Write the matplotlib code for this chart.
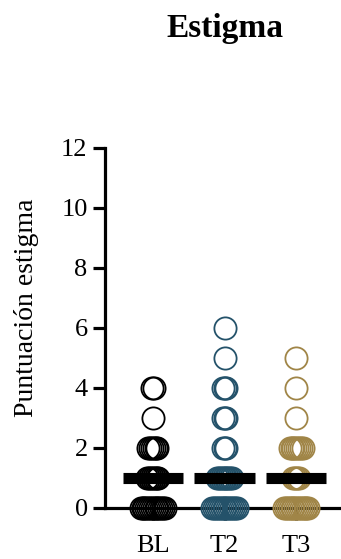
import numpy as np
import matplotlib
matplotlib.use("Agg")
import matplotlib.pyplot as plt

title = "Estigma"
ylabel = "Puntuación estigma"
groups = ["BL", "T2", "T3"]
colors = ["#000000", "#24526a", "#a08547"]
score_levels = [0, 1, 2, 3, 4, 5, 6]
bl_counts = [14, 7, 6, 1, 2, 0, 0]
t2_counts = [14, 9, 3, 3, 3, 1, 1]
t3_counts = [14, 4, 8, 1, 1, 1, 0]
yticks = [0, 2, 4, 6, 8, 10, 12]

all_counts = [bl_counts, t2_counts, t3_counts]

plt.rcParams['font.family'] = ['Liberation Serif', 'DejaVu Serif']

fig = plt.figure(figsize=(3.41, 5.59), dpi=100)
ax = fig.add_axes([105/341, 51/559, 1 - 105/341, 360/559])

spacing = 0.026
for gi, (counts, col) in enumerate(zip(all_counts, colors)):
    vals = []
    for lvl, n in zip(score_levels, counts):
        if n == 0:
            continue
        offs = (np.arange(n) - (n - 1) / 2) * spacing
        ax.plot(gi + offs, [lvl] * n, linestyle='none', marker='o', markersize=16,
                markerfacecolor='none', markeredgecolor=col, markeredgewidth=1.3,
                clip_on=False, zorder=3)
        vals += [lvl] * n
    med = np.median(vals)
    ax.hlines(med, gi - 0.42, gi + 0.42, color='black', linewidth=8, zorder=5)

ax.set_xlim(-0.667, 2.625)
ax.set_ylim(0, 12)
ax.set_yticks(yticks)
ax.set_xticks(range(len(groups)))
ax.set_xticklabels(groups)
for s in ['top', 'right']:
    ax.spines[s].set_visible(False)
for s in ['left', 'bottom']:
    ax.spines[s].set_linewidth(2.3)
ax.tick_params(axis='both', direction='out', length=8.5, width=2.3, labelsize=19)
ax.tick_params(axis='y', pad=4)
ax.tick_params(axis='x', pad=11)

fig.text(225/341, 1 - 37/559, title, ha='center', va='baseline', fontsize=24, fontweight='bold')
fig.text(27/341, 1 - 308/559, ylabel, ha='center', va='center', rotation=90, fontsize=20)

fig.savefig("out.png", dpi=100)
